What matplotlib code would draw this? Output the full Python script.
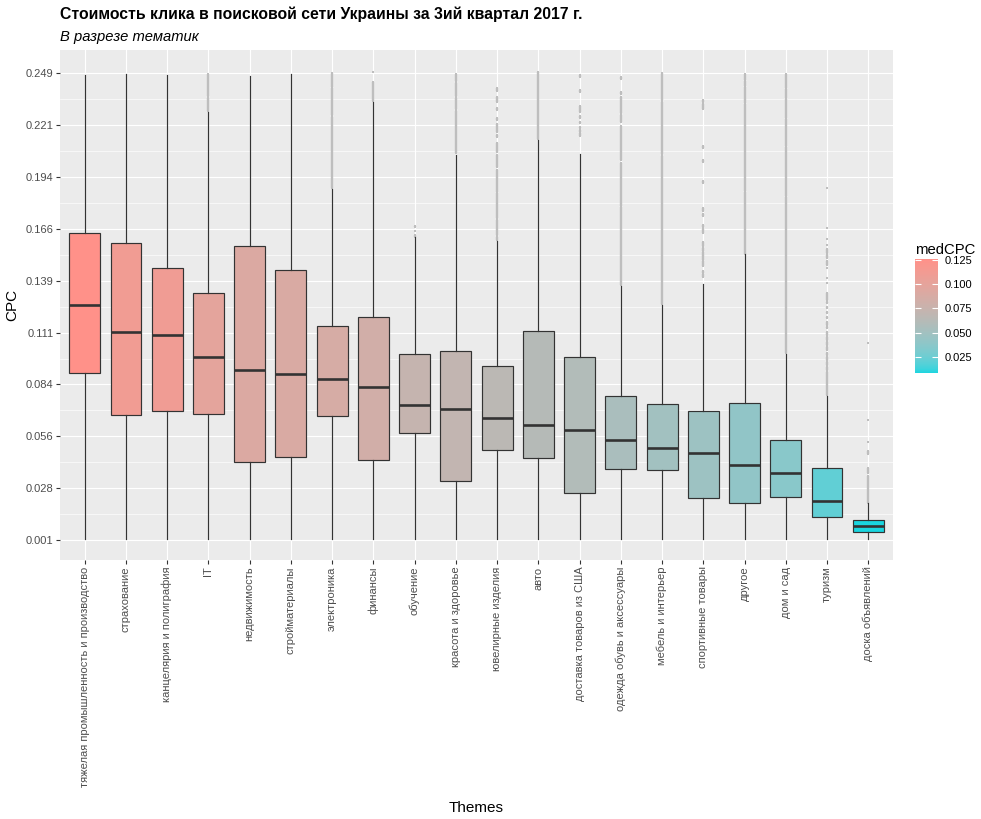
import numpy as np
import matplotlib
matplotlib.use("Agg")
import matplotlib.pyplot as plt
from matplotlib.colors import ListedColormap, Normalize
from matplotlib.cm import ScalarMappable

plt.rcParams['font.family'] = ['Liberation Sans', 'DejaVu Sans']

# ---------------- data ----------------
themes = ["тяжелая промышленность и производство", "страхование", "канцелярия и полиграфия",
          "IT", "недвижимость", "стройматериалы", "электроника", "финансы", "обучение",
          "красота и здоровье", "ювелирные изделия", "авто", "доставка товаров из США",
          "одежда обувь и аксессуары", "мебель и интерьер", "спортивные товары", "другое",
          "дом и сад", "туризм", "доска объявлений"]
whislo = [0.0015, 0.0015, 0.0015, 0.0015, 0.0015, 0.0015, 0.0015, 0.0015, 0.0013, 0.0015,
          0.0015, 0.0015, 0.0015, 0.0015, 0.0013, 0.0015, 0.0015, 0.0015, 0.0015, 0.0015]
q1 = [0.0896, 0.0673, 0.0694, 0.0678, 0.0423, 0.0449, 0.0667, 0.0433, 0.0577, 0.0322,
      0.0487, 0.0444, 0.0258, 0.0386, 0.0380, 0.0231, 0.0205, 0.0237, 0.0134, 0.0051]
med = [0.1259, 0.1115, 0.1099, 0.0984, 0.0913, 0.0894, 0.0866, 0.0823, 0.0727, 0.0706,
       0.0658, 0.0621, 0.0596, 0.0543, 0.0501, 0.0472, 0.0409, 0.0366, 0.0217, 0.0084]
q3 = [0.1643, 0.1587, 0.1457, 0.1321, 0.1574, 0.1443, 0.1149, 0.1193, 0.0997, 0.1013,
      0.0933, 0.1119, 0.0981, 0.0774, 0.0731, 0.0694, 0.0736, 0.0540, 0.0391, 0.0115]
whishi = [0.2481, 0.2487, 0.2480, 0.2286, 0.2476, 0.2487, 0.1875, 0.2338, 0.1620, 0.2056,
          0.1599, 0.2136, 0.2061, 0.1360, 0.1259, 0.1369, 0.1528, 0.0999, 0.0775, 0.0205]
medCPC = med

# outliers: (low, high) runs of overlapping points per theme; low == high is a single point
outliers = [
    [],
    [],
    [],
    [(0.2290, 0.2360), (0.2370, 0.2486)],
    [],
    [],
    [(0.1880, 0.2260), (0.2270, 0.2410), (0.2420, 0.2493)],
    [(0.2345, 0.2445), (0.2495, 0.2495)],
    [(0.1622, 0.1630), (0.1650, 0.1650), (0.1675, 0.1678)],
    [(0.2065, 0.2290), (0.2300, 0.2360), (0.2370, 0.2440), (0.2450, 0.2486)],
    [(0.2397, 0.2410), (0.2339, 0.2365), (0.2295, 0.2304), (0.2242, 0.2251), (0.2180, 0.2220),
     (0.2150, 0.2162), (0.2073, 0.2118), (0.1994, 0.2056), (0.1861, 0.1976), (0.1719, 0.1852),
     (0.1631, 0.1710), (0.1604, 0.1622)],
    [(0.2140, 0.2498)],
    [(0.2472, 0.2481), (0.2392, 0.2401), (0.2286, 0.2316), (0.2254, 0.2263), (0.2224, 0.2233),
     (0.2197, 0.2206), (0.2180, 0.2189), (0.2157, 0.2171)],
    [(0.2460, 0.2472), (0.2380, 0.2392), (0.2277, 0.2365), (0.2233, 0.2268), (0.2029, 0.2212),
     (0.1785, 0.2012), (0.1365, 0.1780)],
    [(0.1262, 0.2050), (0.2060, 0.2340), (0.2350, 0.2490)],
    [(0.2339, 0.2348), (0.2300, 0.2325), (0.2095, 0.2104), (0.2020, 0.2029), (0.1909, 0.1918),
     (0.1758, 0.1772), (0.1733, 0.1745), (0.1675, 0.1684), (0.1643, 0.1663), (0.1574, 0.1595),
     (0.1547, 0.1560), (0.1498, 0.1538), (0.1468, 0.1493), (0.1430, 0.1441), (0.1409, 0.1423)],
    [(0.2455, 0.2486), (0.2425, 0.2449), (0.2333, 0.2419), (0.1864, 0.2327), (0.1532, 0.1858)],
    [(0.2413, 0.2486), (0.2360, 0.2407), (0.2254, 0.2354), (0.2103, 0.2248), (0.1837, 0.2097),
     (0.1002, 0.1831)],
    [(0.1883, 0.1883), (0.1670, 0.1670), (0.1610, 0.1610), (0.1578, 0.1578), (0.1537, 0.1557),
     (0.1507, 0.1524), (0.1471, 0.1493), (0.1454, 0.1454), (0.1404, 0.1404), (0.1377, 0.1377),
     (0.1285, 0.1321), (0.1268, 0.1276), (0.1241, 0.1250), (0.1215, 0.1223), (0.1188, 0.1197),
     (0.1152, 0.1170), (0.1135, 0.1143), (0.1099, 0.1117), (0.1073, 0.1090), (0.1046, 0.1064),
     (0.1020, 0.1037), (0.0993, 0.1002), (0.0966, 0.0984), (0.0940, 0.0957), (0.0913, 0.0931),
     (0.0780, 0.0904)],
    [(0.1058, 0.1058), (0.0648, 0.0648), (0.0532, 0.0532), (0.0467, 0.0484), (0.0364, 0.0391),
     (0.0208, 0.0350)],
]

ytick_labels = ["0.001", "0.028", "0.056", "0.084", "0.111", "0.139", "0.166", "0.194", "0.221", "0.249"]
cbar_ticks = [0.025, 0.050, 0.075, 0.100, 0.125]

title = "Стоимость клика в поисковой сети Украины за 3ий квартал 2017 г."
subtitle = "В разрезе тематик"

# ---------------- colour scale (Lab interpolation like ggplot) ----------------
def _srgb_to_lab(rgb):
    c = np.asarray(rgb, float)
    c = np.where(c <= 0.04045, c / 12.92, ((c + 0.055) / 1.055) ** 2.4)
    M = np.array([[0.4124, 0.3576, 0.1805], [0.2126, 0.7152, 0.0722], [0.0193, 0.1192, 0.9505]])
    xyz = M @ c / np.array([0.95047, 1.0, 1.08883])
    f = np.where(xyz > 0.008856, np.cbrt(xyz), 7.787 * xyz + 16 / 116)
    return np.array([116 * f[1] - 16, 500 * (f[0] - f[1]), 200 * (f[1] - f[2])])

def _lab_to_srgb(lab):
    L, a, b = lab
    fy = (L + 16) / 116
    fx = fy + a / 500
    fz = fy - b / 200
    f = np.array([fx, fy, fz])
    xyz = np.where(f ** 3 > 0.008856, f ** 3, (f - 16 / 116) / 7.787) * np.array([0.95047, 1.0, 1.08883])
    Minv = np.array([[3.2406, -1.5372, -0.4986], [-0.9689, 1.8758, 0.0415], [0.0557, -0.2040, 1.0570]])
    c = Minv @ xyz
    c = np.where(c <= 0.0031308, 12.92 * c, 1.055 * np.clip(c, 0, None) ** (1 / 2.4) - 0.055)
    return np.clip(c, 0, 1)

low_col = np.array([0x1A, 0xD5, 0xDF]) / 255
high_col = np.array([0xFF, 0x91, 0x89]) / 255
lab_lo, lab_hi = _srgb_to_lab(low_col), _srgb_to_lab(high_col)
cmap = ListedColormap([_lab_to_srgb(lab_lo + t * (lab_hi - lab_lo)) for t in np.linspace(0, 1, 256)])
norm = Normalize(vmin=min(medCPC), vmax=max(medCPC))

# ---------------- figure ----------------
W, H = 981, 819
fig = plt.figure(figsize=(W / 100, H / 100), dpi=100)
ax = fig.add_axes([60 / W, 1 - 560 / H, (893 - 60) / W, (560 - 50) / H])
ax.set_facecolor("#EBEBEB")
for s in ax.spines.values():
    s.set_visible(False)

n = len(themes)
pos = np.arange(1, n + 1)
ax.set_xlim(0.4, n + 0.6)
ax.set_ylim(-0.0096, 0.2614)

yt = np.linspace(0.001, 0.249, len(ytick_labels))
ax.set_yticks(yt)
ax.set_yticklabels(ytick_labels)
ax.set_yticks((yt[:-1] + yt[1:]) / 2, minor=True)
ax.set_xticks(pos)
ax.set_xticklabels(themes, rotation=90, ha="center", va="top")
ax.grid(which="major", axis="both", color="white", linewidth=0.85)
ax.grid(which="minor", axis="y", color="white", linewidth=0.45)
ax.set_axisbelow(True)
ax.tick_params(axis="both", which="major", colors="#333333", labelcolor="#4D4D4D",
               length=2.8, width=0.8, labelsize=8.0, pad=1.8)
ax.tick_params(axis="y", which="minor", length=0)

stats = [dict(whislo=whislo[i], q1=q1[i], med=med[i], q3=q3[i], whishi=whishi[i], label=themes[i])
         for i in range(n)]
bp = ax.bxp(stats, positions=pos, widths=0.75, patch_artist=True, showfliers=False, showcaps=False,
            boxprops=dict(edgecolor="#333333", linewidth=0.85),
            whiskerprops=dict(color="#333333", linewidth=0.85),
            medianprops=dict(color="#333333", linewidth=1.9, solid_capstyle="butt"),
            manage_ticks=False, zorder=3)
for patch, m in zip(bp["boxes"], medCPC):
    patch.set_facecolor(cmap(norm(m)))

out_col = "#BEBEBE"
for i, runs in enumerate(outliers):
    for lo, hi in runs:
        if hi > lo:
            ax.vlines(pos[i], lo, hi, colors=out_col, linewidth=1.7, zorder=2)
        ax.scatter([pos[i], pos[i]], [lo, hi], s=3.0, marker="s", color=out_col, linewidths=0, zorder=2)

# axis titles
fig.text(476 / W, 1 - 812 / H, "Themes", ha="center", va="baseline", fontsize=11, color="black")
fig.text(12 / W, 1 - 305 / H, "CPC", ha="center", va="center", rotation=90, fontsize=11, color="black")

# title & subtitle
fig.text(60 / W, 1 - 6.5 / H, title, ha="left", va="top", fontsize=11.3, fontweight="bold", color="black")
fig.text(60 / W, 1 - 30.5 / H, subtitle, ha="left", va="top", fontsize=10.6, fontstyle="italic", color="black")

# colour bar legend
cax = fig.add_axes([915 / W, 1 - 373 / H, 23 / W, (373 - 259) / H])
cb = fig.colorbar(ScalarMappable(norm=norm, cmap=cmap), cax=cax, ticks=cbar_ticks)
cb.outline.set_visible(False)
cb.ax.set_yticklabels([f"{t:.3f}" for t in cbar_ticks])
cb.ax.tick_params(which="both", direction="in", color="white", length=4.5, width=0.8,
                  left=True, right=True, labelsize=8.0, labelcolor="black", pad=4.5)
cb.ax.minorticks_off()
fig.text(915 / W, 1 - 253.5 / H, "medCPC", ha="left", va="baseline", fontsize=10.7, color="black")

fig.savefig("out.png", dpi=100)
